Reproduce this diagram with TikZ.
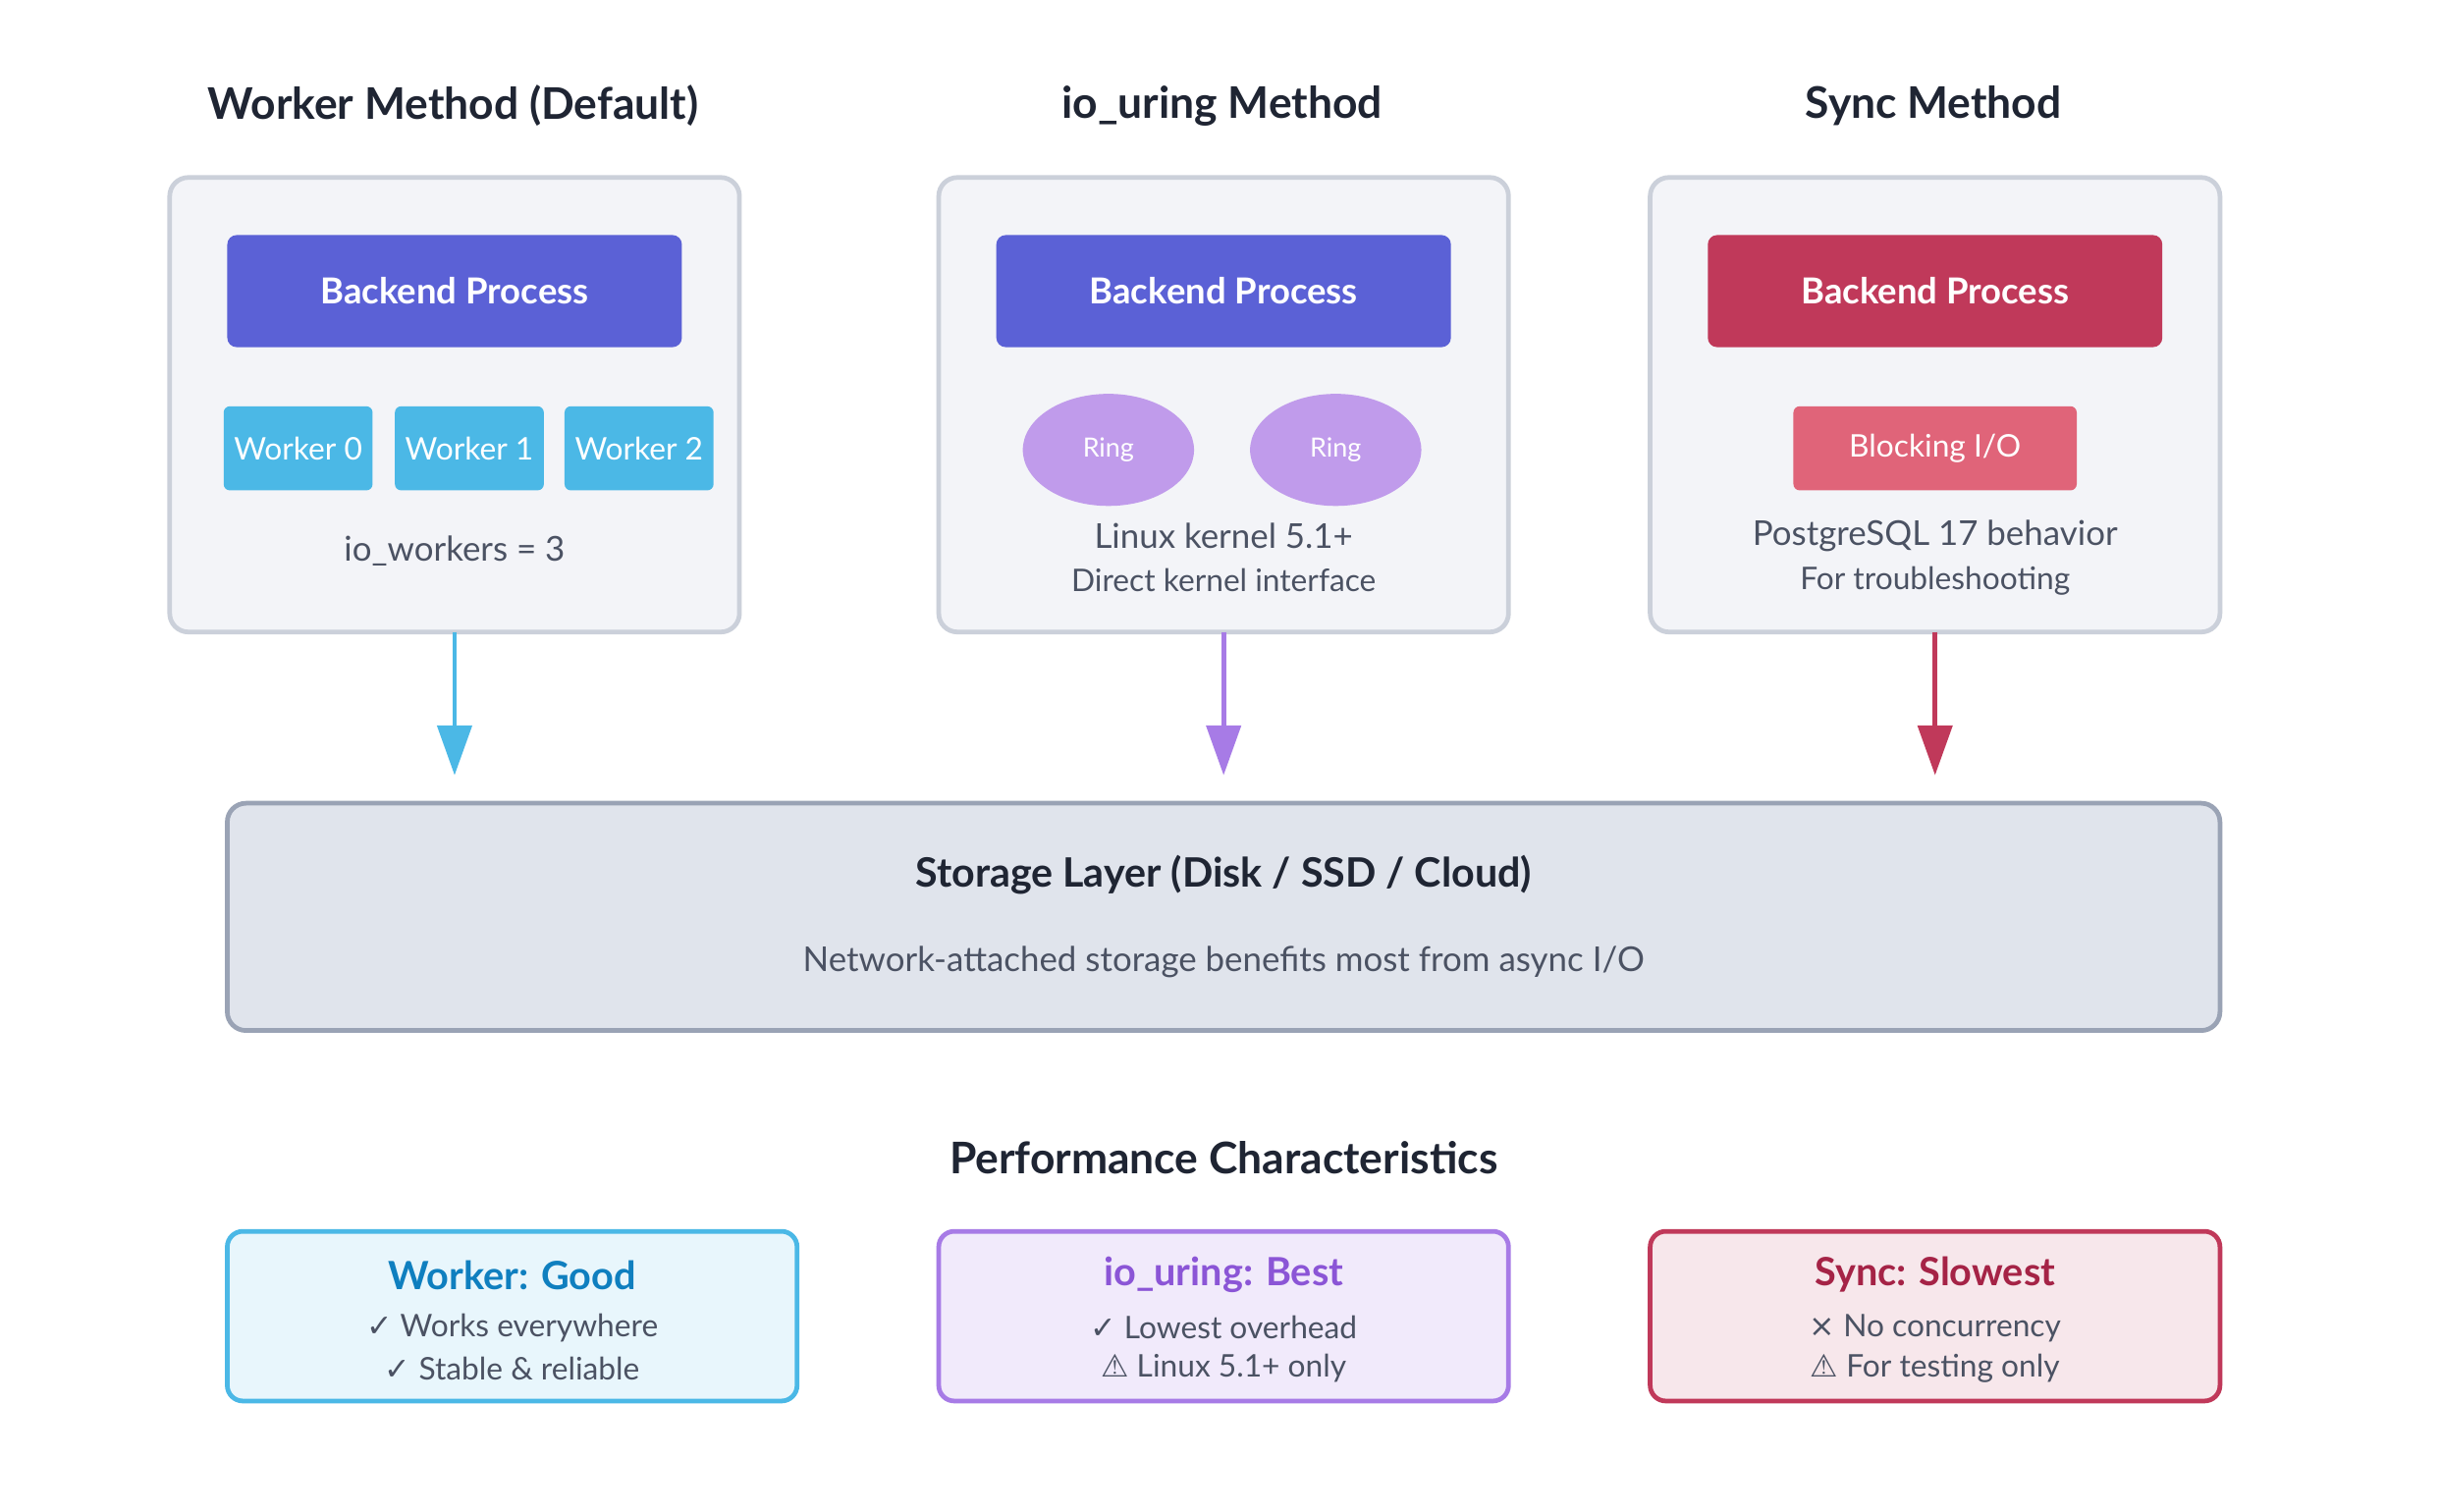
\documentclass[tikz,border=0pt]{standalone}
\usepackage{fontspec}
\setmainfont{Lato}
\newfontfamily\symf{DejaVu Sans}
\usetikzlibrary{arrows.meta,shapes.geometric}
\definecolor{panelF}{HTML}{F3F4F8}\definecolor{panelD}{HTML}{CBD0DA}
\definecolor{indigo}{HTML}{5B61D6}\definecolor{crim}{HTML}{C0395A}
\definecolor{sky}{HTML}{4BB8E6}\definecolor{lav}{HTML}{C09BEB}
\definecolor{purp}{HTML}{A77BE6}\definecolor{pink}{HTML}{E06479}
\definecolor{storF}{HTML}{E0E4EC}\definecolor{storD}{HTML}{9AA3B5}
\definecolor{txt}{HTML}{1F2533}\definecolor{gry}{HTML}{4B5263}
\begin{document}
\begin{tikzpicture}[x=0.5pt,y=-0.5pt,
 title/.style={font=\fontsize{14}{16}\selectfont\bfseries,text=txt},
 panel/.style={draw=panelD,fill=panelF,line width=1.5pt,rounded corners=6pt},
 box/.style={rounded corners=3pt,text=white,font=\fontsize{11.5}{13}\selectfont\bfseries},
 wbox/.style={fill=sky,rounded corners=2pt,text=white,font=\fontsize{10}{11}\selectfont},
 body/.style={text=gry,font=\fontsize{11}{12}\selectfont},
 small/.style={text=gry,font=\fontsize{10}{11}\selectfont},
 arr/.style={line width=1.5pt,-{Triangle[length=16pt,width=11pt]}},
 perf/.style={rounded corners=5pt,line width=1.5pt},
 ptitle/.style={font=\fontsize{12.5}{14}\selectfont\bfseries},
 pline/.style={text=gry,font=\fontsize{10}{11}\selectfont}]
\useasboundingbox[fill=white] (0,0) rectangle (1568,971);
% titles
\node[title] (t1) at (291,68) {Worker Method (Default)};
\node[title] (t2) at (785,68) {io\_uring Method};
\node[title] (t3) at (1242,68) {Sync Method};
% panels
\draw[panel] (109,114) rectangle (475,406); \coordinate (p1) at (292,406);
\draw[panel] (603,114) rectangle (969,406); \coordinate (p2) at (786,406);
\draw[panel] (1060,114) rectangle (1426,406); \coordinate (p3) at (1243,406);
% worker panel
\node[box,fill=indigo,minimum width=146pt,minimum height=36pt] (b1) at (292,187) {Backend Process};
\node[wbox,minimum width=45.5pt,minimum height=27pt] (w0) at (191.5,288) {Worker 0};
\node[wbox,minimum width=45.5pt,minimum height=27pt] (w1) at (301.5,288) {Worker 1};
\node[wbox,minimum width=45.5pt,minimum height=27pt] (w2) at (410.5,288) {Worker 2};
\node[body] (iow) at (292,354) {io\_workers = 3};
% io_uring panel
\node[box,fill=indigo,minimum width=146pt,minimum height=36pt] (b2) at (786,187) {Backend Process};
\node[ellipse,fill=lav,minimum width=55pt,minimum height=36pt,text=white,font=\fontsize{8.5}{10}\selectfont] (r1) at (712,289) {Ring};
\node[ellipse,fill=lav,minimum width=55pt,minimum height=36pt,text=white,font=\fontsize{8.5}{10}\selectfont] (r2) at (858,289) {Ring};
\node[body] (lk) at (786,344) {Linux kernel 5.1+};
\node[small] (dk) at (786,373) {Direct kernel interface};
% sync panel
\node[box,fill=crim,minimum width=146pt,minimum height=36pt] (b3) at (1243,187) {Backend Process};
\node[rounded corners=2pt,fill=pink,text=white,font=\fontsize{10}{11}\selectfont,minimum width=91pt,minimum height=27pt] (bio) at (1243,288) {Blocking I/O};
\node[body] (pg) at (1243,344) {PostgreSQL 17 behavior};
\node[small] (ft) at (1243,373) {For troubleshooting};
% storage
\node[draw=storD,fill=storF,line width=1.5pt,rounded corners=6pt,minimum width=640pt,minimum height=73pt] (st) at (786,589) {};
\node[font=\fontsize{13}{14}\selectfont\bfseries,text=txt] (stt) at (786,562) {Storage Layer (Disk / SSD / Cloud)};
\node[body] (sts) at (786,618) {Network-attached storage benefits most from async I/O};
\coordinate (a1) at (292,498); \coordinate (a2) at (786,498); \coordinate (a3) at (1243,498);
\draw[arr,sky] (p1) -- (a1);
\draw[arr,purp] (p2) -- (a2);
\draw[arr,crim] (p3) -- (a3);
% performance
\node[title] (pc) at (786,744) {Performance Characteristics};
\draw[perf,draw=sky,fill=sky!13] (146,791) rectangle (512,900);
\draw[perf,draw=purp,fill=purp!16] (603,791) rectangle (969,900);
\draw[perf,draw=crim,fill=crim!12] (1060,791) rectangle (1426,900);
\node[ptitle,text={rgb,255:red,15;green,127;blue,191}] (g1) at (329,819) {Worker: Good};
\node[pline] (g2) at (329,853) {{\symf ✓} Works everywhere};
\node[pline] (g3) at (329,879) {{\symf ✓} Stable \& reliable};
\node[ptitle,text={rgb,255:red,139;green,85;blue,214}] (u1) at (786,819) {io\_uring: Best};
\node[pline] (u2) at (786,853) {{\symf ✓} Lowest overhead};
\node[pline] (u3) at (786,879) {{\symf ⚠} Linux 5.1+ only};
\node[ptitle,text={rgb,255:red,165;green,35;blue,70}] (s1) at (1243,819) {Sync: Slowest};
\node[pline] (s2) at (1243,853) {{\symf ×} No concurrency};
\node[pline] (s3) at (1243,879) {{\symf ⚠} For testing only};
\end{tikzpicture}
\end{document}
